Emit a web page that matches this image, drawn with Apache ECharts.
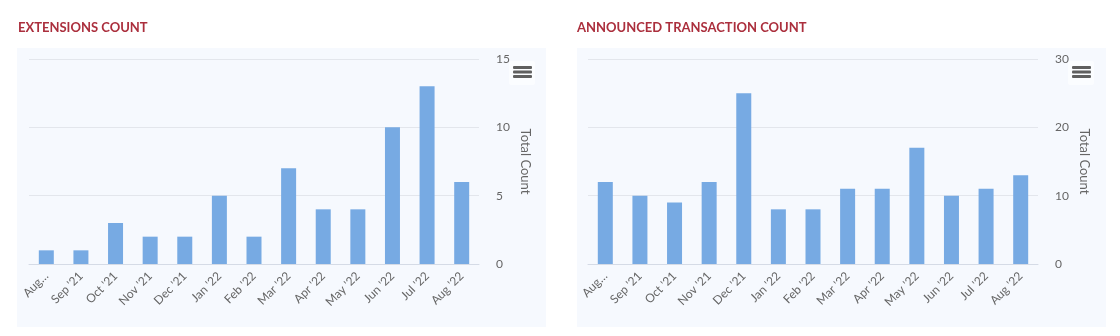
<!DOCTYPE html>
<html>
<head>
<meta charset="utf-8">
<script src="https://cdn.jsdelivr.net/npm/echarts@6/dist/echarts.min.js"></script>
<style>
  html, body { margin: 0; padding: 0; background: #ffffff; }
  #chart { width: 1120px; height: 336px; }
</style>
</head>
<body>
<div id="chart"></div>
<script>
// Monthly categories shared by both panels
const months = ["Aug '21", "Sep '21", "Oct '21", "Nov '21", "Dec '21", "Jan '22", "Feb '22",
                "Mar '22", "Apr '22", "May '22", "Jun '22", "Jul '22", "Aug '22"];

// Panel titles
const titleLeft = 'EXTENSIONS COUNT';
const titleRight = 'ANNOUNCED TRANSACTION COUNT';
const axisName = 'Total Count';

// Series values
const extensions = [1, 1, 3, 2, 2, 5, 2, 7, 4, 4, 10, 13, 6];
const transactions = [12, 10, 9, 12, 25, 8, 8, 11, 11, 17, 10, 11, 13];

// Value-axis ranges
const leftMax = 15, leftStep = 5;
const rightMax = 30, rightStep = 10;

const FONT = 'Lato, "Noto Sans", sans-serif';
const BAR = '#77aae3';
const TXT = '#666666';

function xAxisFor(gridIndex) {
  return {
    type: 'category',
    gridIndex: gridIndex,
    data: months,
    axisLine: { lineStyle: { color: '#d5dbe6', width: 1 } },
    axisTick: { show: false },
    axisLabel: {
      rotate: 45,
      margin: 10,
      color: TXT,
      fontFamily: FONT,
      fontSize: 12,
      interval: 0,
      formatter: function (v, i) { return i === 0 ? v.slice(0, 3) + '…' : v; }
    }
  };
}

function yAxisFor(gridIndex, max, step) {
  return {
    type: 'value',
    gridIndex: gridIndex,
    position: 'right',
    min: 0,
    max: max,
    interval: step,
    name: axisName,
    nameLocation: 'middle',
    nameRotate: -90,
    nameGap: 40,
    nameTextStyle: { color: TXT, fontFamily: FONT, fontSize: 13 },
    axisLine: { show: false },
    axisTick: { show: false },
    splitLine: { lineStyle: { color: '#e3e6ec', width: 1 } },
    axisLabel: { margin: 17, color: TXT, fontFamily: FONT, fontSize: 12 }
  };
}

// Hamburger menu button in the panel corner
function menuButton(x, y) {
  const parts = [{
    type: 'rect', z: -5,
    shape: { x: x - 4, y: y - 5, width: 26, height: 24, r: 2 },
    style: { fill: '#ffffff', opacity: 0.6 }
  }];
  [0, 4.5, 9].forEach(function (dy) {
    parts.push({
      type: 'rect', z: 10,
      shape: { x: x, y: y + dy, width: 19, height: 3, r: 1 },
      style: { fill: '#5f5f5f' }
    });
  });
  return parts;
}

const chart = echarts.init(document.getElementById('chart'), null, { renderer: 'canvas' });

const titleStyle = { color: '#ab2f3d', fontFamily: FONT, fontSize: 13, fontWeight: 'bold' };

chart.setOption({
  animation: false,
  backgroundColor: '#ffffff',
  title: [
    { text: titleLeft, left: 18, top: 21, padding: 0, textStyle: titleStyle },
    { text: titleRight, left: 577, top: 21, padding: 0, textStyle: titleStyle }
  ],
  graphic: [
    { type: 'rect', z: -10, shape: { x: 17, y: 48, width: 529, height: 279 }, style: { fill: '#f6f9fe' } },
    { type: 'rect', z: -10, shape: { x: 577, y: 48, width: 529, height: 279 }, style: { fill: '#f6f9fe' } }
  ].concat(menuButton(513, 66), menuButton(1072, 66)),
  grid: [
    { left: 29, top: 59, width: 450, height: 205 },
    { left: 588, top: 59, width: 450, height: 205 }
  ],
  xAxis: [xAxisFor(0), xAxisFor(1)],
  yAxis: [yAxisFor(0, leftMax, leftStep), yAxisFor(1, rightMax, rightStep)],
  series: [
    { type: 'bar', xAxisIndex: 0, yAxisIndex: 0, data: extensions, barWidth: 15,
      itemStyle: { color: BAR } },
    { type: 'bar', xAxisIndex: 1, yAxisIndex: 1, data: transactions, barWidth: 15,
      itemStyle: { color: BAR } }
  ]
});
</script>
</body>
</html>
